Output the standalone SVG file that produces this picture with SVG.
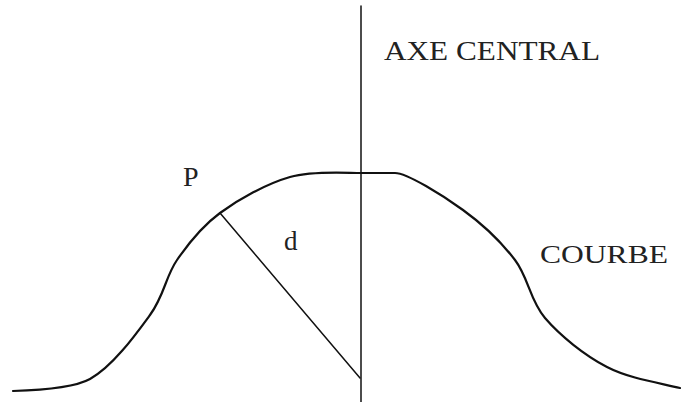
<svg xmlns="http://www.w3.org/2000/svg" width="681" height="402" viewBox="0 0 681 402">
  <style>
    .ln { fill: none; stroke: #111; stroke-linecap: round; stroke-linejoin: round; }
    .lbl { font-family: "Liberation Serif", "Times New Roman", serif; fill: #222; }
  </style>
  <rect width="681" height="402" fill="#fff"/>
  <g id="axe">
    <line class="ln" x1="361" y1="6" x2="361" y2="402" stroke-width="1.5"/>
  </g>
  <g id="courbe">
    <path class="ln" stroke-width="2.2" d="M 13 391 C 30 390.5, 72 389, 90 379 C 112.8 366.3, 135.5 334.8, 150 315 C 164.5 295.2, 165.3 277, 177 260 C 188.7 243, 201.2 226.8, 220 213 C 238.8 199.2, 266.5 183.7, 290 177 C 313.5 170.3, 346 173, 361 173 L 395 173 C 407 173, 443 195.5, 463 210 C 483 224.5, 501.3 242, 515 260 C 528.7 278, 529.7 300.2, 545 318 C 560.3 335.8, 584.5 355.3, 607 367 C 629.5 378.7, 660 383, 680 388"/>
  </g>
  <g id="distance">
    <line class="ln" x1="220" y1="213" x2="360" y2="378" stroke-width="1.5"/>
  </g>
  <g id="labels">
    <text class="lbl" x="384" y="60" font-size="27" textLength="216" lengthAdjust="spacingAndGlyphs">AXE CENTRAL</text>
    <text class="lbl" x="183" y="186" font-size="28">P</text>
    <text class="lbl" x="284" y="250" font-size="27">d</text>
    <text class="lbl" x="540" y="263" font-size="26" textLength="128" lengthAdjust="spacingAndGlyphs">COURBE</text>
  </g>
</svg>
